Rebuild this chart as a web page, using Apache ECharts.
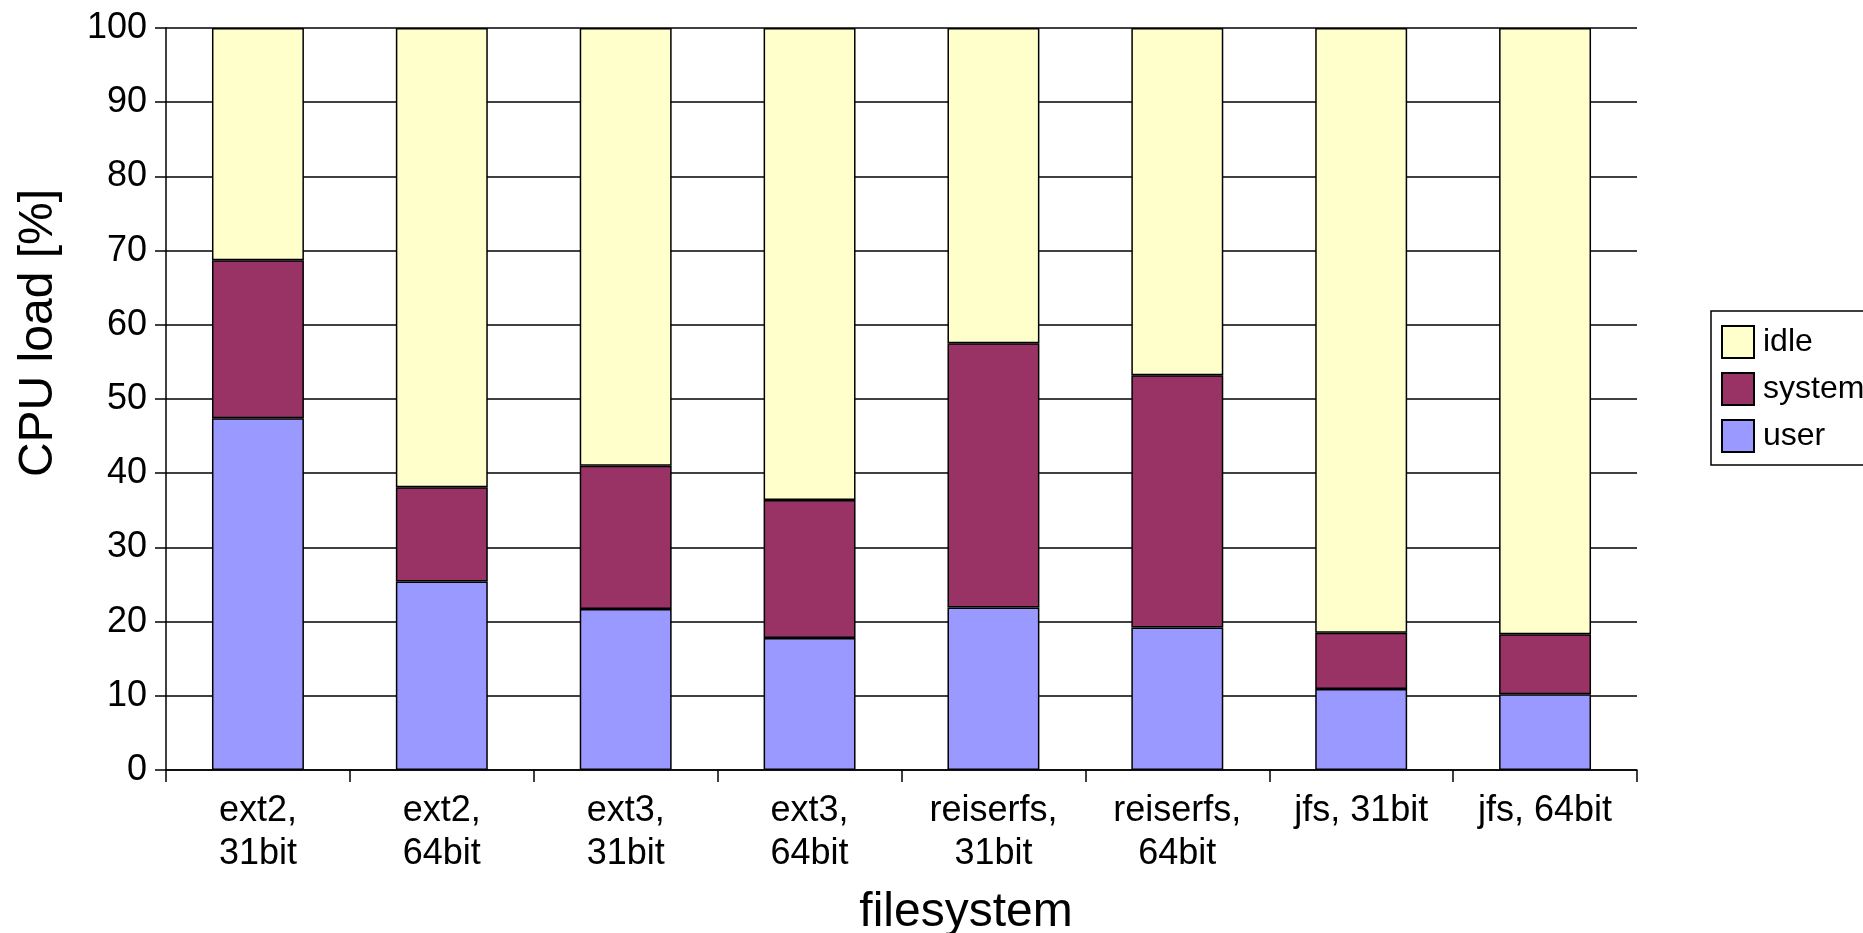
<!DOCTYPE html>
<html>
<head>
<meta charset="utf-8">
<script src="https://cdn.jsdelivr.net/npm/echarts@6/dist/echarts.min.js"></script>
<style>
html,body{margin:0;padding:0;background:#fff;}
#chart{width:1863px;height:933px;}
</style>
</head>
<body>
<div id="chart"></div>
<script>
const categories = ['ext2,\n31bit','ext2,\n64bit','ext3,\n31bit','ext3,\n64bit','reiserfs,\n31bit','reiserfs,\n64bit','jfs, 31bit','jfs, 64bit'];
const userLoad   = [47.4, 25.4, 21.7, 17.8, 21.9, 19.2, 10.9, 10.2];
const systemLoad = [21.3, 12.7, 19.3, 18.6, 35.6, 34.0, 7.6, 8.1];
const idleLoad   = [31.3, 61.9, 59.0, 63.6, 42.5, 46.8, 81.5, 81.7];
const seriesNames = ['user', 'system', 'idle'];
const legendOrder = ['idle', 'system', 'user'];
const xTitle = 'filesystem';
const yTitle = 'CPU load [%]';

const FONT = "'Liberation Sans', Arial, sans-serif";
const colors = {user: '#9999FF', system: '#993366', idle: '#FFFFCC'};
const values = {user: userLoad, system: systemLoad, idle: idleLoad};

const chart = echarts.init(document.getElementById('chart'));
chart.setOption({
  animation: false,
  backgroundColor: '#ffffff',
  textStyle: {fontFamily: FONT},
  grid: {left: 166, right: 226, top: 28, bottom: 163, containLabel: false},
  legend: {
    data: legendOrder,
    orient: 'vertical',
    left: 1711,
    top: 311,
    itemWidth: 32,
    itemHeight: 32,
    itemGap: 13,
    padding: [14, 40, 12, 10],
    borderColor: '#000',
    borderWidth: 1.5,
    icon: 'rect',
    selectedMode: false,
    textStyle: {fontSize: 32, color: '#000', fontFamily: FONT, padding: [0, 0, 0, 4]}
  },
  xAxis: {
    type: 'category',
    data: categories,
    axisLine: {show: true, lineStyle: {color: '#000', width: 1.5}},
    axisTick: {show: true, length: 12, interval: 0, lineStyle: {color: '#000', width: 1.5}},
    axisLabel: {interval: 0, fontSize: 36, lineHeight: 43, margin: 20, color: '#000', fontFamily: FONT},
    splitLine: {show: false}
  },
  yAxis: {
    type: 'value',
    min: 0, max: 100, interval: 10,
    axisLine: {show: true, lineStyle: {color: '#000', width: 1.5}},
    axisTick: {show: true, length: 11, lineStyle: {color: '#000', width: 1.5}},
    axisLabel: {fontSize: 36, margin: 19, color: '#000', fontFamily: FONT},
    splitLine: {show: true, lineStyle: {color: '#000', width: 1.5}}
  },
  graphic: [
    {type: 'text', x: 39, y: 333, rotation: Math.PI / 2,
     style: {text: yTitle, fontSize: 48, fontFamily: FONT, fill: '#000', align: 'center', verticalAlign: 'middle'}},
    {type: 'text', x: 966, y: 913,
     style: {text: xTitle, fontSize: 48, fontFamily: FONT, fill: '#000', align: 'center', verticalAlign: 'middle'}}
  ],
  series: seriesNames.map(name => ({
    name: name,
    type: 'bar',
    stack: 'cpu',
    barCategoryGap: '50%',
    data: values[name],
    itemStyle: {color: colors[name], borderColor: '#000', borderWidth: 1.5},
    emphasis: {disabled: true}
  }))
});
</script>
</body>
</html>
